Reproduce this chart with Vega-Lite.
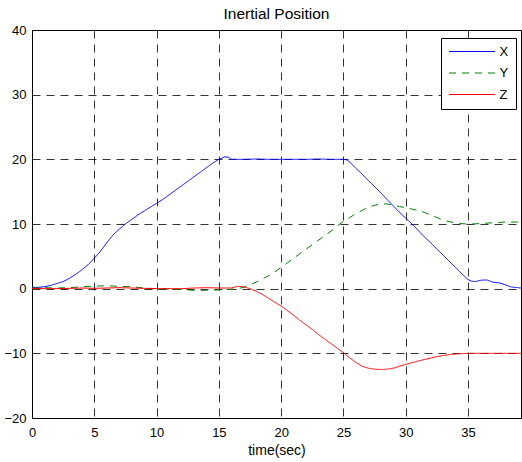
{
  "$schema": "https://vega.github.io/schema/vega-lite/v6.json",
  "width": 489,
  "height": 388,
  "autosize": {"type": "none"},
  "padding": {"left": 32, "top": 30, "right": 1, "bottom": 44},
  "background": "white",
  "title": {
    "text": "Inertial Position",
    "font": "Liberation Sans",
    "fontSize": 15.5,
    "fontWeight": "normal",
    "color": "black",
    "anchor": "middle",
    "offset": 2
  },
  "config": {
    "view": {"stroke": "black", "strokeWidth": 1},
    "axis": {
      "domain": false,
      "ticks": false,
      "grid": true,
      "gridColor": "#000000",
      "gridOpacity": 0.8,
      "gridDash": [8, 6],
      "gridWidth": 1,
      "labelFont": "Liberation Sans",
      "labelFontSize": 13,
      "labelColor": "black",
      "titleFont": "Liberation Sans",
      "titleFontSize": 14,
      "titleFontWeight": "normal",
      "titleColor": "black"
    }
  },
  "data": {
    "values": [
      {"t": 0, "v": 0.2, "s": "X"}, {"t": 0.5, "v": 0.2, "s": "X"}, {"t": 1, "v": 0.3, "s": "X"},
      {"t": 1.5, "v": 0.5, "s": "X"}, {"t": 2, "v": 0.8, "s": "X"}, {"t": 2.5, "v": 1.1, "s": "X"},
      {"t": 3, "v": 1.6, "s": "X"}, {"t": 3.5, "v": 2.2, "s": "X"}, {"t": 4, "v": 2.9, "s": "X"},
      {"t": 4.5, "v": 3.7, "s": "X"}, {"t": 5, "v": 4.7, "s": "X"}, {"t": 5.5, "v": 5.8, "s": "X"},
      {"t": 6, "v": 7.1, "s": "X"}, {"t": 6.5, "v": 8.3, "s": "X"}, {"t": 7, "v": 9.2, "s": "X"},
      {"t": 7.5, "v": 10.0, "s": "X"}, {"t": 8, "v": 10.7, "s": "X"}, {"t": 8.5, "v": 11.4, "s": "X"},
      {"t": 9, "v": 12.0, "s": "X"}, {"t": 9.5, "v": 12.6, "s": "X"}, {"t": 10, "v": 13.2, "s": "X"},
      {"t": 10.5, "v": 13.8, "s": "X"}, {"t": 11, "v": 14.5, "s": "X"}, {"t": 11.5, "v": 15.2, "s": "X"},
      {"t": 12, "v": 15.9, "s": "X"}, {"t": 12.5, "v": 16.6, "s": "X"}, {"t": 13, "v": 17.3, "s": "X"},
      {"t": 13.5, "v": 18.0, "s": "X"}, {"t": 14, "v": 18.7, "s": "X"}, {"t": 14.5, "v": 19.4, "s": "X"},
      {"t": 15, "v": 20.0, "s": "X"}, {"t": 15.5, "v": 20.4, "s": "X"}, {"t": 15.8, "v": 20.3, "s": "X"},
      {"t": 16, "v": 20.0, "s": "X"}, {"t": 17, "v": 20.0, "s": "X"}, {"t": 18, "v": 20.05, "s": "X"},
      {"t": 19, "v": 20.0, "s": "X"}, {"t": 20, "v": 20.0, "s": "X"}, {"t": 21, "v": 20.0, "s": "X"},
      {"t": 22, "v": 20.0, "s": "X"}, {"t": 23, "v": 20.05, "s": "X"}, {"t": 24, "v": 20.0, "s": "X"},
      {"t": 25, "v": 20.0, "s": "X"}, {"t": 25.3, "v": 19.9, "s": "X"}, {"t": 25.6, "v": 19.4, "s": "X"},
      {"t": 26, "v": 18.6, "s": "X"}, {"t": 26.5, "v": 17.7, "s": "X"}, {"t": 27, "v": 16.7, "s": "X"},
      {"t": 27.5, "v": 15.8, "s": "X"}, {"t": 28, "v": 14.8, "s": "X"}, {"t": 28.5, "v": 13.8, "s": "X"},
      {"t": 29, "v": 12.8, "s": "X"}, {"t": 29.5, "v": 11.8, "s": "X"}, {"t": 30, "v": 10.9, "s": "X"},
      {"t": 30.5, "v": 10.0, "s": "X"}, {"t": 31, "v": 9.0, "s": "X"}, {"t": 31.5, "v": 8.0, "s": "X"},
      {"t": 32, "v": 7.1, "s": "X"}, {"t": 32.5, "v": 6.1, "s": "X"}, {"t": 33, "v": 5.2, "s": "X"},
      {"t": 33.5, "v": 4.2, "s": "X"}, {"t": 34, "v": 3.3, "s": "X"}, {"t": 34.5, "v": 2.3, "s": "X"},
      {"t": 35, "v": 1.4, "s": "X"}, {"t": 35.3, "v": 1.15, "s": "X"}, {"t": 35.6, "v": 1.1, "s": "X"},
      {"t": 36, "v": 1.3, "s": "X"}, {"t": 36.5, "v": 1.35, "s": "X"}, {"t": 37, "v": 1.0, "s": "X"},
      {"t": 37.5, "v": 0.9, "s": "X"}, {"t": 38, "v": 0.6, "s": "X"}, {"t": 38.5, "v": 0.25, "s": "X"},
      {"t": 39, "v": 0.15, "s": "X"}, {"t": 39.25, "v": 0.1, "s": "X"},

      {"t": 0, "v": 0.1, "s": "Y"}, {"t": 1, "v": 0.15, "s": "Y"}, {"t": 2, "v": 0.1, "s": "Y"},
      {"t": 3, "v": 0.15, "s": "Y"}, {"t": 4, "v": 0.3, "s": "Y"}, {"t": 5, "v": 0.4, "s": "Y"},
      {"t": 6, "v": 0.45, "s": "Y"}, {"t": 7, "v": 0.35, "s": "Y"}, {"t": 8, "v": 0.3, "s": "Y"},
      {"t": 9, "v": 0.1, "s": "Y"}, {"t": 10, "v": 0.0, "s": "Y"}, {"t": 11, "v": -0.05, "s": "Y"},
      {"t": 12, "v": -0.15, "s": "Y"}, {"t": 13, "v": -0.25, "s": "Y"}, {"t": 14, "v": -0.25, "s": "Y"},
      {"t": 15, "v": -0.2, "s": "Y"}, {"t": 16, "v": -0.1, "s": "Y"}, {"t": 16.5, "v": 0.0, "s": "Y"},
      {"t": 17, "v": 0.2, "s": "Y"}, {"t": 17.5, "v": 0.6, "s": "Y"}, {"t": 18, "v": 1.0, "s": "Y"},
      {"t": 18.5, "v": 1.5, "s": "Y"}, {"t": 19, "v": 2.0, "s": "Y"}, {"t": 19.5, "v": 2.6, "s": "Y"},
      {"t": 20, "v": 3.3, "s": "Y"}, {"t": 20.5, "v": 4.0, "s": "Y"}, {"t": 21, "v": 4.7, "s": "Y"},
      {"t": 21.5, "v": 5.4, "s": "Y"}, {"t": 22, "v": 6.1, "s": "Y"}, {"t": 22.5, "v": 6.8, "s": "Y"},
      {"t": 23, "v": 7.5, "s": "Y"}, {"t": 23.5, "v": 8.2, "s": "Y"}, {"t": 24, "v": 8.9, "s": "Y"},
      {"t": 24.5, "v": 9.7, "s": "Y"}, {"t": 25, "v": 10.4, "s": "Y"}, {"t": 25.5, "v": 11.0, "s": "Y"},
      {"t": 26, "v": 11.6, "s": "Y"}, {"t": 26.5, "v": 12.1, "s": "Y"}, {"t": 27, "v": 12.6, "s": "Y"},
      {"t": 27.5, "v": 12.9, "s": "Y"}, {"t": 28, "v": 13.1, "s": "Y"}, {"t": 28.5, "v": 13.1, "s": "Y"},
      {"t": 29, "v": 12.9, "s": "Y"}, {"t": 29.5, "v": 12.7, "s": "Y"}, {"t": 30, "v": 12.5, "s": "Y"},
      {"t": 30.5, "v": 12.3, "s": "Y"}, {"t": 31, "v": 12.1, "s": "Y"}, {"t": 31.5, "v": 11.8, "s": "Y"},
      {"t": 32, "v": 11.4, "s": "Y"}, {"t": 32.5, "v": 11.0, "s": "Y"}, {"t": 33, "v": 10.6, "s": "Y"},
      {"t": 33.5, "v": 10.35, "s": "Y"}, {"t": 34, "v": 10.2, "s": "Y"}, {"t": 34.5, "v": 10.05, "s": "Y"},
      {"t": 35, "v": 10.0, "s": "Y"}, {"t": 36, "v": 10.05, "s": "Y"}, {"t": 37, "v": 10.2, "s": "Y"},
      {"t": 38, "v": 10.3, "s": "Y"}, {"t": 39.25, "v": 10.3, "s": "Y"},

      {"t": 0, "v": 0.05, "s": "Z"}, {"t": 1, "v": 0.0, "s": "Z"}, {"t": 2, "v": 0.0, "s": "Z"},
      {"t": 3, "v": 0.05, "s": "Z"}, {"t": 4, "v": 0.1, "s": "Z"}, {"t": 5, "v": 0.05, "s": "Z"},
      {"t": 6, "v": 0.1, "s": "Z"}, {"t": 7, "v": 0.15, "s": "Z"}, {"t": 8, "v": 0.1, "s": "Z"},
      {"t": 9, "v": 0.05, "s": "Z"}, {"t": 10, "v": 0.0, "s": "Z"}, {"t": 11, "v": 0.0, "s": "Z"},
      {"t": 12, "v": 0.0, "s": "Z"}, {"t": 13, "v": 0.1, "s": "Z"}, {"t": 14, "v": 0.15, "s": "Z"},
      {"t": 15, "v": 0.1, "s": "Z"}, {"t": 16, "v": 0.1, "s": "Z"}, {"t": 16.5, "v": 0.35, "s": "Z"},
      {"t": 17, "v": 0.3, "s": "Z"}, {"t": 17.5, "v": 0.0, "s": "Z"}, {"t": 18, "v": -0.4, "s": "Z"},
      {"t": 18.5, "v": -0.9, "s": "Z"}, {"t": 19, "v": -1.5, "s": "Z"}, {"t": 19.5, "v": -2.1, "s": "Z"},
      {"t": 20, "v": -2.7, "s": "Z"}, {"t": 20.5, "v": -3.4, "s": "Z"}, {"t": 21, "v": -4.1, "s": "Z"},
      {"t": 21.5, "v": -4.9, "s": "Z"}, {"t": 22, "v": -5.6, "s": "Z"}, {"t": 22.5, "v": -6.3, "s": "Z"},
      {"t": 23, "v": -7.1, "s": "Z"}, {"t": 23.5, "v": -7.8, "s": "Z"}, {"t": 24, "v": -8.5, "s": "Z"},
      {"t": 24.5, "v": -9.2, "s": "Z"}, {"t": 25, "v": -9.9, "s": "Z"}, {"t": 25.5, "v": -10.7, "s": "Z"},
      {"t": 26, "v": -11.4, "s": "Z"}, {"t": 26.5, "v": -12.0, "s": "Z"}, {"t": 27, "v": -12.3, "s": "Z"},
      {"t": 27.5, "v": -12.45, "s": "Z"}, {"t": 28, "v": -12.5, "s": "Z"}, {"t": 28.5, "v": -12.45, "s": "Z"},
      {"t": 29, "v": -12.3, "s": "Z"}, {"t": 29.5, "v": -12.0, "s": "Z"}, {"t": 30, "v": -11.7, "s": "Z"},
      {"t": 30.5, "v": -11.45, "s": "Z"}, {"t": 31, "v": -11.2, "s": "Z"}, {"t": 31.5, "v": -10.95, "s": "Z"},
      {"t": 32, "v": -10.75, "s": "Z"}, {"t": 32.5, "v": -10.5, "s": "Z"}, {"t": 33, "v": -10.35, "s": "Z"},
      {"t": 33.5, "v": -10.2, "s": "Z"}, {"t": 34, "v": -10.1, "s": "Z"}, {"t": 35, "v": -10.0, "s": "Z"},
      {"t": 36, "v": -10.0, "s": "Z"}, {"t": 37, "v": -10.0, "s": "Z"}, {"t": 38, "v": -10.0, "s": "Z"},
      {"t": 39.25, "v": -10.0, "s": "Z"}
    ]
  },
  "mark": {"type": "line", "strokeWidth": 1, "interpolate": "linear"},
  "encoding": {
    "x": {
      "field": "t",
      "type": "quantitative",
      "scale": {"domain": [0, 39.25], "nice": false, "zero": false},
      "axis": {
        "title": "time(sec)",
        "values": [0, 5, 10, 15, 20, 25, 30, 35],
        "labelPadding": 8,
        "titlePadding": 4,
        "labelFlush": false,
        "labelOverlap": false
      }
    },
    "y": {
      "field": "v",
      "type": "quantitative",
      "scale": {"domain": [-20, 40], "nice": false},
      "axis": {
        "title": null,
        "values": [-20, -10, 0, 10, 20, 30, 40],
        "labelPadding": 6,
        "labelFlush": false,
        "labelOverlap": false
      }
    },
    "color": {
      "field": "s",
      "type": "nominal",
      "scale": {"domain": ["X", "Y", "Z"], "range": ["#0000FF", "#008000", "#FF0000"]},
      "legend": {
        "title": null,
        "orient": "none",
        "legendX": 409,
        "legendY": 8,
        "padding": 7,
        "strokeColor": "black",
        "fillColor": "white",
        "symbolType": "M-4.6,0H4.6",
        "symbolSize": 100,
        "symbolStrokeWidth": 1,
        "symbolOffset": 17.5,
        "labelOffset": 21,
        "rowPadding": 7.5,
        "labelFont": "Liberation Sans",
        "labelFontSize": 13,
        "labelColor": "black",
        "encode": {
          "symbols": {
            "update": {
              "stroke": {"signal": "datum.value === 'X' ? '#0000FF' : datum.value === 'Y' ? '#008000' : '#FF0000'"},
              "fill": {"value": "transparent"},
              "strokeDash": {"signal": "datum.value === 'Y' ? [7, 6] : [1, 0]"}
            }
          }
        }
      }
    },
    "strokeDash": {
      "field": "s",
      "type": "nominal",
      "scale": {"domain": ["X", "Y", "Z"], "range": [[1, 0], [7, 6], [1, 0]]},
      "legend": null
    }
  }
}
